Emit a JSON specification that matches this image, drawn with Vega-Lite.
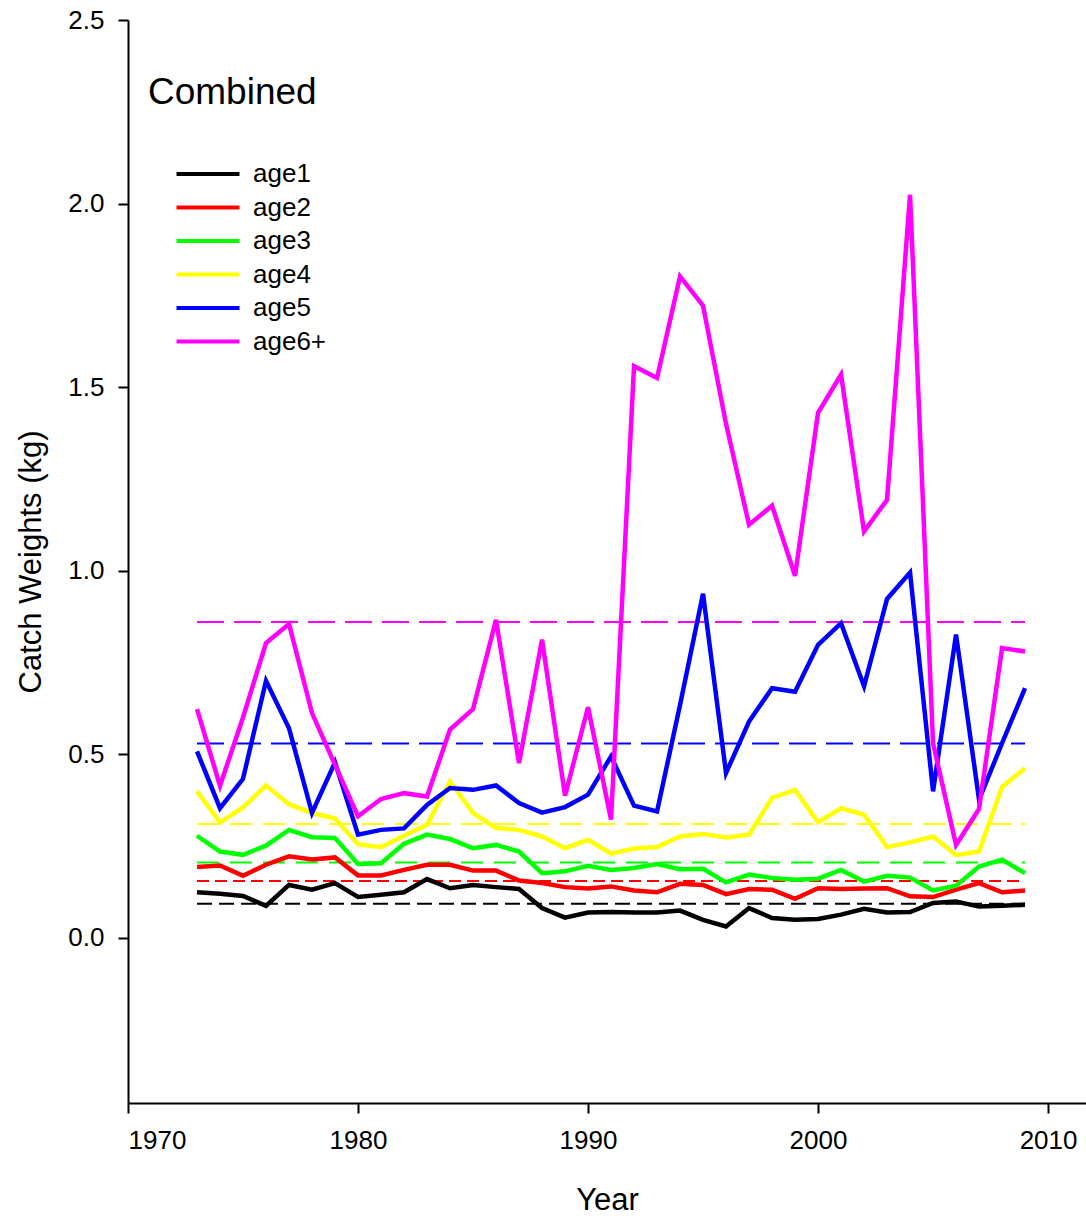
{
  "$schema": "https://vega.github.io/schema/vega-lite/v6.json",
  "width": 958,
  "height": 1083,
  "autosize": {"type": "none"},
  "padding": {"left": 128, "top": 20, "right": 0, "bottom": 113},
  "background": "white",
  "config": {
    "view": {"stroke": null},
    "font": "Liberation Sans",
    "axis": {
      "grid": false,
      "domainColor": "black",
      "domainWidth": 2,
      "tickColor": "black",
      "tickWidth": 2,
      "tickSize": 10,
      "labelColor": "black",
      "labelFont": "Liberation Sans",
      "labelFontSize": 26,
      "titleFont": "Liberation Sans",
      "titleFontSize": 31,
      "titleFontWeight": "normal",
      "titleColor": "black"
    },
    "legend": {
      "title": null,
      "orient": "none",
      "legendX": 62,
      "legendY": 136,
      "padding": 0,
      "symbolType": "M-2,0H2",
      "symbolSize": 992,
      "symbolStrokeWidth": 4,
      "labelFont": "Liberation Sans",
      "labelFontSize": 26,
      "labelColor": "black",
      "labelOffset": 27,
      "rowPadding": 2.5
    }
  },
  "title": {
    "text": "Combined",
    "anchor": "start",
    "frame": "group",
    "orient": "top",
    "font": "Liberation Sans",
    "fontSize": 37,
    "fontWeight": "normal",
    "color": "black",
    "baseline": "alphabetic",
    "offset": 0,
    "dx": 20,
    "dy": 134
  },
  "datasets": {
    "weights": [
      {"year":1973,"age1":0.124,"age2":0.193,"age3":0.278,"age4":0.399,"age5":0.508,"age6+":0.623},
      {"year":1974,"age1":0.120,"age2":0.197,"age3":0.235,"age4":0.314,"age5":0.353,"age6+":0.414},
      {"year":1975,"age1":0.114,"age2":0.169,"age3":0.226,"age4":0.355,"age5":0.433,"age6+":0.600},
      {"year":1976,"age1":0.087,"age2":0.199,"age3":0.251,"age4":0.415,"age5":0.700,"age6+":0.803},
      {"year":1977,"age1":0.144,"age2":0.222,"age3":0.294,"age4":0.364,"age5":0.571,"age6+":0.855},
      {"year":1978,"age1":0.131,"age2":0.213,"age3":0.274,"age4":0.340,"age5":0.340,"age6+":0.612},
      {"year":1979,"age1":0.149,"age2":0.219,"age3":0.272,"age4":0.325,"age5":0.478,"age6+":0.471},
      {"year":1980,"age1":0.111,"age2":0.170,"age3":0.201,"age4":0.255,"age5":0.281,"age6+":0.331},
      {"year":1981,"age1":0.117,"age2":0.170,"age3":0.203,"age4":0.247,"age5":0.294,"age6+":0.378},
      {"year":1982,"age1":0.124,"age2":0.185,"age3":0.256,"age4":0.278,"age5":0.298,"age6+":0.394},
      {"year":1983,"age1":0.160,"age2":0.199,"age3":0.281,"age4":0.308,"age5":0.362,"age6+":0.385},
      {"year":1984,"age1":0.135,"age2":0.199,"age3":0.269,"age4":0.426,"age5":0.408,"age6+":0.567},
      {"year":1985,"age1":0.144,"age2":0.183,"age3":0.244,"age4":0.340,"age5":0.403,"age6+":0.623},
      {"year":1986,"age1":0.138,"age2":0.183,"age3":0.253,"age4":0.299,"age5":0.415,"age6+":0.866},
      {"year":1987,"age1":0.133,"age2":0.156,"age3":0.235,"age4":0.294,"age5":0.367,"age6+":0.476},
      {"year":1988,"age1":0.081,"age2":0.149,"age3":0.176,"age4":0.276,"age5":0.341,"age6+":0.812},
      {"year":1989,"age1":0.055,"age2":0.138,"age3":0.181,"age4":0.244,"age5":0.356,"age6+":0.387},
      {"year":1990,"age1":0.069,"age2":0.134,"age3":0.196,"age4":0.267,"age5":0.390,"age6+":0.628},
      {"year":1991,"age1":0.070,"age2":0.140,"age3":0.185,"age4":0.229,"age5":0.494,"age6+":0.322},
      {"year":1992,"age1":0.069,"age2":0.129,"age3":0.190,"age4":0.243,"age5":0.360,"age6+":1.557},
      {"year":1993,"age1":0.069,"age2":0.124,"age3":0.201,"age4":0.247,"age5":0.344,"age6+":1.525},
      {"year":1994,"age1":0.074,"age2":0.147,"age3":0.187,"age4":0.276,"age5":0.634,"age6+":1.802},
      {"year":1995,"age1":0.049,"age2":0.144,"age3":0.188,"age4":0.283,"age5":0.937,"age6+":1.722},
      {"year":1996,"age1":0.031,"age2":0.119,"age3":0.151,"age4":0.273,"age5":0.449,"age6+":1.400},
      {"year":1997,"age1":0.081,"age2":0.133,"age3":0.172,"age4":0.281,"age5":0.589,"age6+":1.125},
      {"year":1998,"age1":0.054,"age2":0.131,"age3":0.163,"age4":0.381,"age5":0.680,"age6+":1.177},
      {"year":1999,"age1":0.049,"age2":0.106,"age3":0.158,"age4":0.403,"age5":0.670,"age6+":0.986},
      {"year":2000,"age1":0.051,"age2":0.135,"age3":0.161,"age4":0.315,"age5":0.798,"age6+":1.430},
      {"year":2001,"age1":0.063,"age2":0.133,"age3":0.185,"age4":0.353,"age5":0.857,"age6+":1.534},
      {"year":2002,"age1":0.079,"age2":0.134,"age3":0.153,"age4":0.335,"age5":0.685,"age6+":1.107},
      {"year":2003,"age1":0.069,"age2":0.135,"age3":0.169,"age4":0.247,"age5":0.923,"age6+":1.193},
      {"year":2004,"age1":0.070,"age2":0.113,"age3":0.164,"age4":0.260,"age5":0.995,"age6+":2.024},
      {"year":2005,"age1":0.095,"age2":0.111,"age3":0.129,"age4":0.276,"age5":0.399,"age6+":0.530},
      {"year":2006,"age1":0.099,"age2":0.131,"age3":0.142,"age4":0.225,"age5":0.826,"age6+":0.253},
      {"year":2007,"age1":0.085,"age2":0.149,"age3":0.194,"age4":0.235,"age5":0.376,"age6+":0.351},
      {"year":2008,"age1":0.087,"age2":0.124,"age3":0.213,"age4":0.411,"age5":0.530,"age6+":0.789},
      {"year":2009,"age1":0.090,"age2":0.129,"age3":0.176,"age4":0.462,"age5":0.680,"age6+":0.780}
    ],
    "means": [
      {"age":"age1","mean":0.093,"from":1973,"to":2009},
      {"age":"age2","mean":0.155,"from":1973,"to":2009},
      {"age":"age3","mean":0.205,"from":1973,"to":2009},
      {"age":"age4","mean":0.310,"from":1973,"to":2009},
      {"age":"age5","mean":0.529,"from":1973,"to":2009},
      {"age":"age6+","mean":0.860,"from":1973,"to":2009}
    ]
  },
  "resolve": {"legend": {"color": "independent", "strokeDash": "independent"}},
  "layer": [
    {
      "data": {"name": "means"},
      "mark": {"type": "rule", "strokeWidth": 2},
      "encoding": {
        "x": {"field": "from", "type": "quantitative"},
        "x2": {"field": "to"},
        "y": {"field": "mean", "type": "quantitative"},
        "color": {"field": "age", "type": "nominal", "legend": null},
        "strokeDash": {
          "field": "age",
          "type": "nominal",
          "legend": null,
          "scale": {
            "domain": ["age1","age2","age3","age4","age5","age6+"],
            "range": [[15,7],[12,6],[22,11],[22,11],[27,10],[27,10]]
          }
        }
      }
    },
    {
      "data": {"name": "weights"},
      "transform": [
        {"fold": ["age1","age2","age3","age4","age5","age6+"], "as": ["age","w"]}
      ],
      "mark": {"type": "line", "strokeWidth": 4.5, "strokeJoin": "miter"},
      "encoding": {
        "x": {
          "field": "year",
          "type": "quantitative",
          "scale": {"domain": [1970, 2011.65], "nice": false, "zero": false},
          "axis": {
            "title": "Year",
            "values": [1970,1980,1990,2000,2010],
            "format": "d",
            "labelPadding": 14,
            "titlePadding": 32
          }
        },
        "y": {
          "field": "w",
          "type": "quantitative",
          "scale": {"domain": [-0.45, 2.5], "nice": false, "zero": false},
          "axis": {
            "title": "Catch Weights (kg)",
            "values": [0,0.5,1,1.5,2,2.5],
            "format": ".1f",
            "labelPadding": 14,
            "titlePadding": 20
          }
        },
        "color": {
          "field": "age",
          "type": "nominal",
          "scale": {
            "domain": ["age1","age2","age3","age4","age5","age6+"],
            "range": ["#000000","#FF0000","#00FF00","#FFFF00","#0000FF","#FF00FF"]
          }
        }
      }
    }
  ]
}
